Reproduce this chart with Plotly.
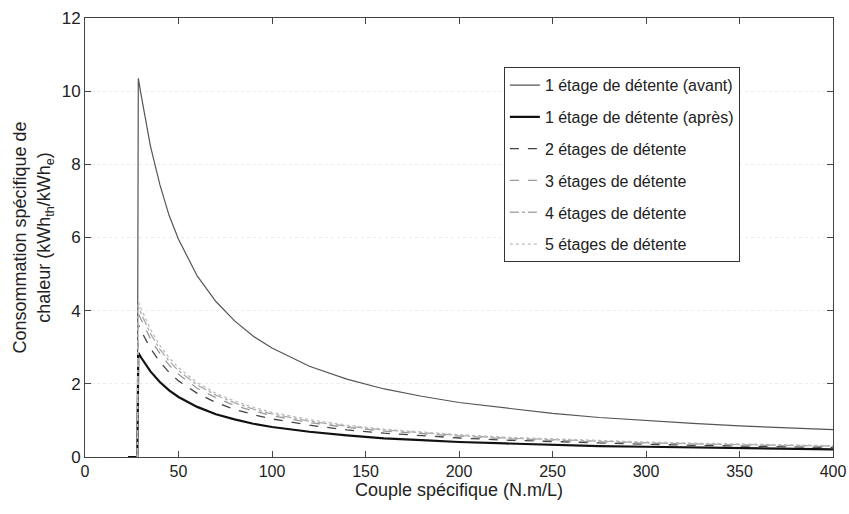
import plotly.graph_objects as go

# Couple spécifique (N.m/L)
x_vals = [28.5, 30, 35, 40, 45, 50, 60, 70, 80, 90, 100, 120, 140, 160, 180,
          200, 225, 250, 275, 300, 325, 350, 375, 400]

avant = [10.35, 9.9, 8.5, 7.45, 6.6, 5.95, 4.95, 4.25, 3.72, 3.3, 2.98, 2.48, 2.13,
         1.86, 1.66, 1.49, 1.33, 1.19, 1.08, 0.99, 0.92, 0.85, 0.8, 0.75]
apres = [2.85, 2.72, 2.34, 2.05, 1.82, 1.64, 1.37, 1.17, 1.03, 0.91, 0.82, 0.69, 0.59,
         0.51, 0.46, 0.41, 0.37, 0.33, 0.30, 0.28, 0.26, 0.24, 0.22, 0.21]
etages2 = [3.62, 3.45, 2.97, 2.6, 2.31, 2.08, 1.74, 1.49, 1.3, 1.16, 1.04, 0.87, 0.74,
           0.65, 0.58, 0.52, 0.46, 0.42, 0.38, 0.35, 0.32, 0.30, 0.28, 0.26]
etages3 = [3.92, 3.76, 3.23, 2.83, 2.51, 2.26, 1.88, 1.62, 1.41, 1.26, 1.13, 0.94, 0.81,
           0.71, 0.63, 0.57, 0.50, 0.45, 0.41, 0.38, 0.35, 0.32, 0.30, 0.28]
etages4 = [4.12, 3.93, 3.37, 2.95, 2.62, 2.36, 1.97, 1.69, 1.48, 1.31, 1.18, 0.98, 0.84,
           0.74, 0.66, 0.59, 0.52, 0.47, 0.43, 0.39, 0.36, 0.34, 0.31, 0.30]
etages5 = [4.25, 4.06, 3.49, 3.05, 2.71, 2.44, 2.03, 1.74, 1.53, 1.36, 1.22, 1.02, 0.87,
           0.76, 0.68, 0.61, 0.54, 0.49, 0.44, 0.41, 0.38, 0.35, 0.33, 0.31]

# start of curves: zero before the jump
start_x = [28]
start_y = [0]
apres_start_x = [23, 28]
apres_start_y = [0, 0]

names = ["1 étage de détente (avant)", "1 étage de détente (après)",
         "2 étages de détente", "3 étages de détente",
         "4 étages de détente", "5 étages de détente"]

x_ticks = [0, 50, 100, 150, 200, 250, 300, 350, 400]
y_ticks = [0, 2, 4, 6, 8, 10, 12]

series = [avant, apres, etages2, etages3, etages4, etages5]
styles = [
    dict(color="#555555", width=1.2, dash="solid"),
    dict(color="#111111", width=2.2, dash="solid"),
    dict(color="#444444", width=1.3, dash="dash"),
    dict(color="#9a9a9a", width=1.3, dash="dash"),
    dict(color="#aaaaaa", width=1.3, dash="dashdot"),
    dict(color="#bdbdbd", width=1.3, dash="dot"),
]

fig = go.Figure()
for i, (name, ys, st) in enumerate(zip(names, series, styles)):
    if i == 1:
        xx = apres_start_x + x_vals
        yy = apres_start_y + ys
    else:
        xx = start_x + x_vals
        yy = start_y + ys
    fig.add_trace(go.Scatter(x=xx, y=yy, mode="lines", name=name, line=st,
                             legendgroup=f"g{i}"))

font_main = "Liberation Sans Narrow, Liberation Sans, Arial, sans-serif"

fig.update_layout(
    width=849, height=514,
    margin=dict(l=85, r=16, t=18, b=57),
    paper_bgcolor="white", plot_bgcolor="white",
    font=dict(family=font_main, size=16, color="#222222"),
    legend=dict(
        x=0.56, y=0.888, xanchor="left", yanchor="top",
        bgcolor="white", bordercolor="#333333", borderwidth=1,
        font=dict(family="Liberation Sans, Arial, sans-serif", size=16, color="#222222"),
        tracegroupgap=8, itemwidth=30,
    ),
    showlegend=True,
)

fig.update_xaxes(
    range=[0, 400], tickvals=x_ticks, ticktext=[str(v) for v in x_ticks],
    showline=True, linecolor="#444444", linewidth=1, mirror="ticks",
    ticks="inside", ticklen=6, tickcolor="#444444",
    showgrid=False, zeroline=False, ticklabeloverflow="allow", automargin=False,
    tickfont=dict(family=font_main, size=16),
    title=dict(text="Couple spécifique (N.m/L)", standoff=4,
               font=dict(family=font_main, size=18)),
)
fig.update_yaxes(
    range=[0, 12], tickvals=y_ticks, ticktext=[str(v) for v in y_ticks],
    showline=True, linecolor="#444444", linewidth=1, mirror="ticks",
    ticks="inside", ticklen=6, tickcolor="#444444",
    showgrid=True, gridcolor="#ececec", griddash="dot", zeroline=False,
    automargin=False,
    tickfont=dict(family=font_main, size=17),
    title=dict(text="Consommation spécifique de<br>chaleur (kWh<sub>th</sub>/kWh<sub>e</sub>)",
               standoff=6,
               font=dict(family="Liberation Sans, Arial, sans-serif", size=18)),
)

fig.write_html("out.html")
